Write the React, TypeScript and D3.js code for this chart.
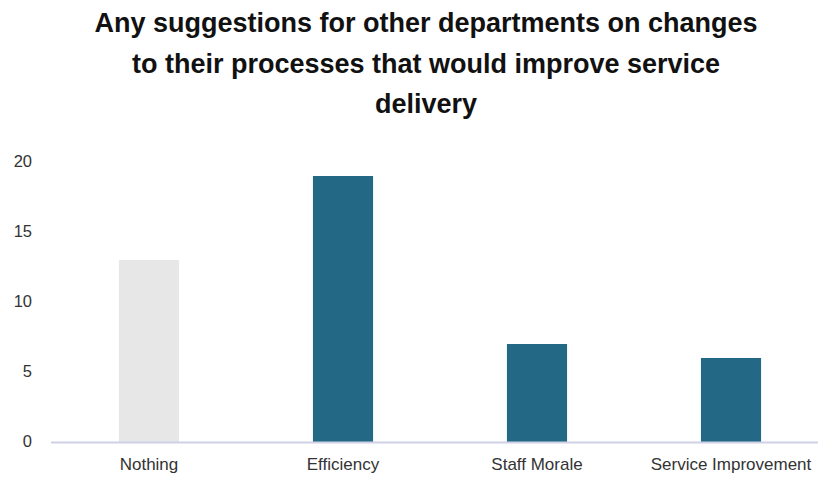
import React from 'react';
import * as d3 from 'd3';

const categories = ['Nothing', 'Efficiency', 'Staff Morale', 'Service Improvement'];
const counts = [13, 19, 7, 6];
const barColors = ['#e7e7e7', '#236884', '#236884', '#236884'];
const yTicks = [0, 5, 10, 15, 20];
const titleLines = [
  'Any suggestions for other departments on changes',
  'to their processes that would improve service',
  'delivery',
];

const W = 818;
const H = 478;
const font = 'Liberation Sans, Arial, sans-serif';

export default function App() {
  const x = d3.scaleBand<string>().domain(categories).range([52, 828]).paddingInner(0.69).paddingOuter(0.345);
  const y = d3.scaleLinear().domain([0, 20]).range([442, 162]);

  return (
    <svg width={W} height={H} style={{ position: 'absolute', left: 0, top: 0, background: '#fff' }}>
      {titleLines.map((t, i) => (
        <text key={i} x={426} y={32 + i * 40.5} textAnchor="middle" fontFamily={font} fontWeight="bold" fontSize={27} fill="#111">
          {t}
        </text>
      ))}
      {yTicks.map(t => (
        <text key={t} x={32} y={y(t) - 0.5} dy="0.35em" textAnchor="end" fontFamily={font} fontSize={16.5} fill="#333">
          {t}
        </text>
      ))}
      {categories.map((c, i) => (
        <rect key={c} x={x(c)} y={y(counts[i])} width={x.bandwidth()} height={y(0) - y(counts[i])} fill={barColors[i]} />
      ))}
      <line x1={51} x2={820} y1={y(0) + 0.5} y2={y(0) + 0.5} stroke="#d0d0e6" strokeWidth={2} />
      {categories.map(c => (
        <text key={c} x={(x(c) ?? 0) + x.bandwidth() / 2} y={470} textAnchor="middle" fontFamily={font} fontSize={17} fill="#333">
          {c}
        </text>
      ))}
    </svg>
  );
}
